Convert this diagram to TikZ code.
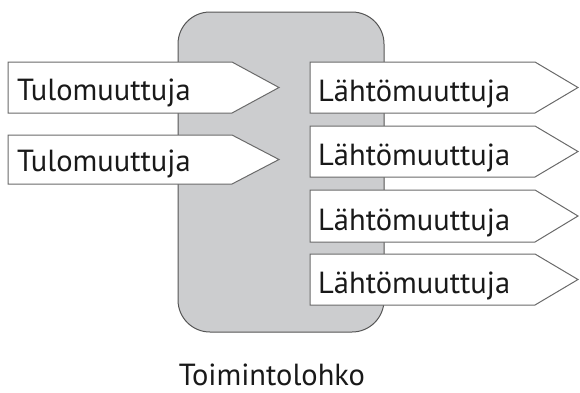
\documentclass[tikz,border=0pt]{standalone}
\usepackage{fontspec}
\setmainfont{PT Sans}
\definecolor{boxfill}{HTML}{CCCDCF}
\definecolor{boxline}{HTML}{555555}
\definecolor{arrline}{HTML}{6A6A6A}
\begin{document}
\begin{tikzpicture}[x=1pt,y=-1pt,
  blockbox/.style={draw=boxline,fill=boxfill,line width=1pt,rounded corners=32pt},
  arr/.style={draw=arrline,fill=white,line width=1pt,line join=miter},
  lbl/.style={anchor=base west,inner sep=0pt,font=\fontsize{30.5}{32}\selectfont,text=black!90}]
\useasboundingbox (0,0) rectangle (580,392);
\draw[blockbox] (178,12) rectangle (384,332);
% input arrows
\foreach \t/\b/\n in {62/113/in1,135/184/in2}{
  \draw[arr] (8,\t) -- (232,\t) -- (279,{(\t+\b)/2}) -- (232,\b) -- (8,\b) -- cycle;
  \node[lbl] (\n) at (17,\b-13) {Tulomuuttuja};
}
% output arrows
\foreach \t/\b/\n in {62/113/out1,126/177/out2,190/242/out3,254/305/out4}{
  \draw[arr] (310,\t) -- (535,\t) -- (578,{(\t+\b)/2}) -- (535,\b) -- (310,\b) -- cycle;
  \node[lbl] (\n) at (318,\b-12) {Lähtömuuttuja};
}
\node[lbl,anchor=base] (title) at (272,385) {Toimintolohko};
\end{tikzpicture}
\end{document}
